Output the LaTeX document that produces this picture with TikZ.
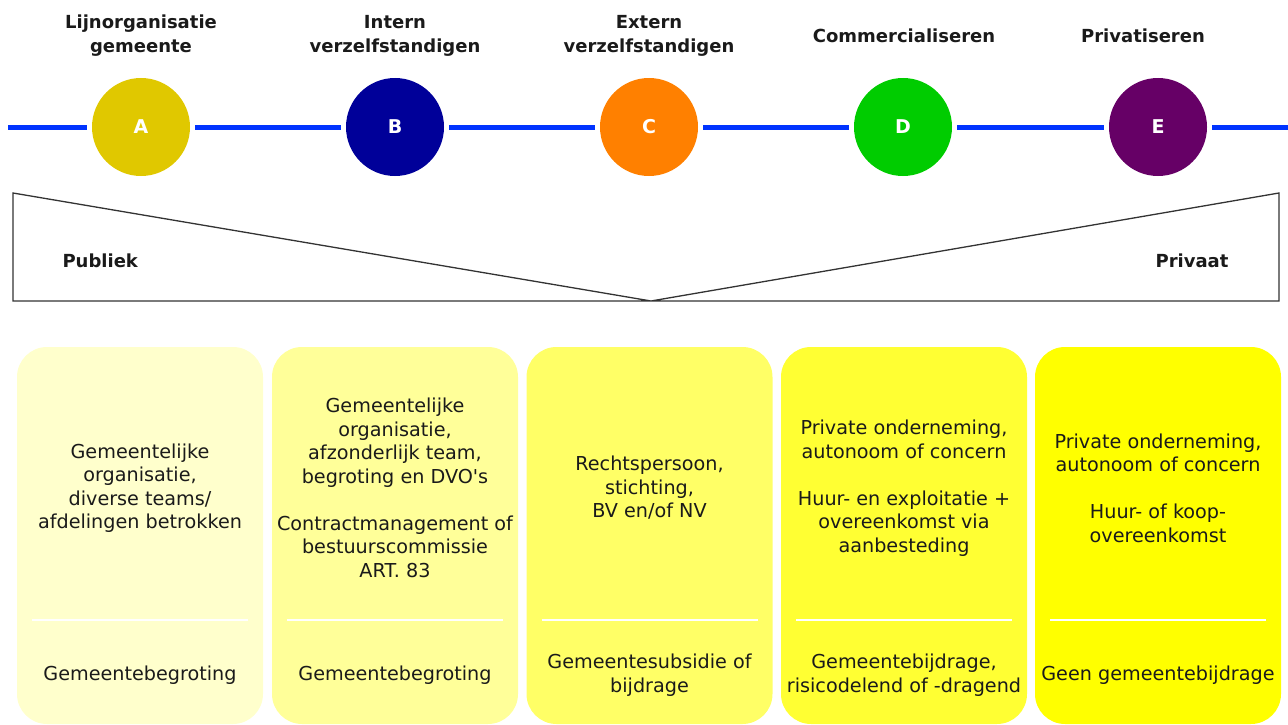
\documentclass[tikz,border=0pt]{standalone}
\usepackage{fontspec}
\setmainfont{DejaVu Sans}
\usetikzlibrary{positioning}
\usepackage{xcolor}
\definecolor{phA}{RGB}{224,200,0}
\definecolor{phB}{RGB}{0,0,153}
\definecolor{phC}{RGB}{255,128,0}
\definecolor{phD}{RGB}{0,204,0}
\definecolor{phE}{RGB}{102,0,102}
\definecolor{spineblue}{RGB}{0,51,255}
\definecolor{txtdark}{RGB}{26,26,26}
\definecolor{fillA}{RGB}{255,255,204}
\definecolor{fillB}{RGB}{255,255,153}
\definecolor{fillC}{RGB}{255,255,102}
\definecolor{fillD}{RGB}{255,255,51}
\definecolor{fillE}{RGB}{255,255,0}
\tikzstyle{phase} = [circle, minimum size=98pt, inner sep=0pt, outer sep=5pt, text=white, font=\bfseries\fontsize{19}{22}\selectfont]
\tikzstyle{spine} = [line width=5pt, color=spineblue]
\tikzstyle{phasetitle} = [align=center, text=txtdark, font=\bfseries\fontsize{18}{24}\selectfont]
\tikzstyle{card} = [rounded corners=30pt, minimum width=246pt, minimum height=377pt, inner sep=0pt]
\tikzstyle{cardtext} = [align=center, text=txtdark, font=\fontsize{19.2}{23.5}\selectfont]

\begin{document}
\begin{tikzpicture}[x=1pt, y=-1pt]
\useasboundingbox (0,0) rectangle (1288,725);

% Phases on the line
\foreach \x/\tx/\l/\c/\t in {141/141/A/phA/{Lijnorganisatie\\gemeente},
                          395/395/B/phB/{Intern\\verzelfstandigen},
                          649/649/C/phC/{Extern\\verzelfstandigen},
                          903/904/D/phD/{Commercialiseren},
                          1158/1143/E/phE/{Privatiseren}} {
    \node[phase, fill=\c] (\l) at (\x,127) {\l};
    \node[phasetitle] (title\l) at (\tx,35.5) {\t};
}

% Spine
\coordinate (spinestart) at (8,127);
\coordinate (spineend) at (1288,127);
\draw[spine] (spinestart) -- (A);
\foreach \a/\b in {A/B, B/C, C/D, D/E} {
    \draw[spine] (\a) -- (\b);
}
\draw[spine] (E) -- (spineend);

% Publiek - privaat
\coordinate (tl) at (13,193);
\coordinate (bl) at (13,301);
\coordinate (br) at (1279,301);
\coordinate (tr) at (1279,193);
\coordinate (apex) at (651,301);
\draw[line width=1.3pt, color=black!80] (tl) -- (bl) -- (br) -- (tr) -- (apex) -- cycle;
\node[phasetitle, anchor=west] (publiek) at (59,261) {Publiek};
\node[phasetitle, anchor=east] (privaat) at (1232,261) {Privaat};

% Cards
\foreach \x/\n/\f/\u/\d in {140/1/fillA/{Gemeentelijke\\organisatie,\\diverse teams/\\afdelingen betrokken}/{Gemeentebegroting},
                             395/2/fillB/{Gemeentelijke\\organisatie,\\afzonderlijk team,\\begroting en DVO\textquotesingle s\\[23.5pt]Contractmanagement of\\bestuurscommissie\\ART. 83}/{Gemeentebegroting},
                             649.5/3/fillC/{Rechtspersoon,\\stichting,\\BV en/of NV}/{Gemeentesubsidie of\\bijdrage},
                             904/4/fillD/{Private onderneming,\\autonoom of concern\\[23.5pt]Huur- en exploitatie +\\overeenkomst via\\aanbesteding}/{Gemeentebijdrage,\\risicodelend of -dragend},
                             1158/5/fillE/{Private onderneming,\\autonoom of concern\\[23.5pt]Huur- of koop-\\overeenkomst}/{Geen gemeentebijdrage}} {
    \node[card, fill=\f] (card\n) at (\x,535.5) {};
    \node[cardtext] (upper\n) at (\x,488) {\u};
    \node[cardtext] (lower\n) at (\x,675) {\d};
    \draw[white, line width=1.5pt] (\x-108,620) -- (\x+108,620);
}
\end{tikzpicture}
\end{document}
